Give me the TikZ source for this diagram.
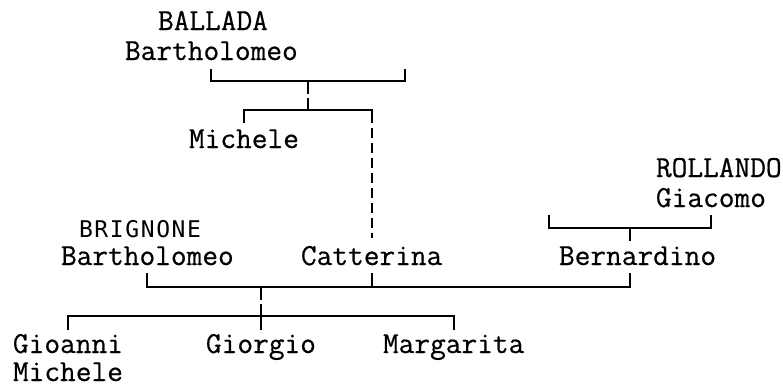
\documentclass[tikz,border=0pt]{standalone}
\usepackage{fontspec}
\newfontfamily\treefont[FakeBold=0.6]{Latin Modern Mono}
\newfontfamily\capsans[LetterSpace=7]{DejaVu Sans Mono}
\usetikzlibrary{calc}

\begin{document}
\begin{tikzpicture}[x=1pt, y=-1pt, line width=2pt,
    person/.style={anchor=base west, inner sep=0pt, font=\treefont\fontsize{30.5}{34}\selectfont},
    gap/.style={dash pattern=on 13pt off 4pt},
    dashline/.style={dash pattern=on 10pt off 5pt}]
    \useasboundingbox (0,0) rectangle (783,388);
    %% Persons
    \node[person] (ballada) at (157,30) {BALLADA};
    \node[person] (bartA) at (124,60) {Bartholomeo};
    \node[person] (michA) at (188,148) {Michele};
    \node[person, font=\capsans\fontsize{23}{26}\selectfont] (brignone) at (78,237) {BRIGNONE};
    \node[person] (bartB) at (60,265) {Bartholomeo};
    \node[person] (catt) at (300,265) {Catterina};
    \node[person] (rollando) at (655,177) {ROLLANDO};
    \node[person] (giac) at (655,207) {Giacomo};
    \node[person] (bern) at (558,265) {Bernardino};
    \node[person] (gioa) at (12,353) {Gioanni};
    \node[person] (michB) at (12,381) {Michele};
    \node[person] (gior) at (205,353) {Giorgio};
    \node[person] (marg) at (382,353) {Margarita};
    %% Unions
    \coordinate (spA) at (405,69);
    \coordinate (spR) at (549,215);
    \coordinate (uA) at (308,81);
    \coordinate (uR) at (630,228);
    \coordinate (uB) at (gior |- 0,287);
    %% BALLADA
    \draw (bartA |- 0,69) |- (spA |- uA) -- (spA);
    \draw[gap] (uA) -- (uA |- 0,110);
    \draw (michA |- 0,123) |- (catt |- 0,110) -- (catt |- 0,123);
    \draw[dashline] (catt |- 0,128) -- (catt |- 0,238);
    %% ROLLANDO
    \draw (spR) |- (uR) -| (giac |- 0,215);
    \draw (uR) -- (uR |- 0,241);
    %% BRIGNONE
    \draw (bartB |- 0,273) |- (uR |- uB) -- (uR |- 0,273);
    \draw (catt |- 0,273) -- (catt |- uB);
    \draw[gap] (uB) -- (uB |- 0,316);
    \draw (gioa |- 0,330) |- (marg |- 0,316) -- (marg |- 0,330);
    \draw (gior |- 0,316) -- (gior |- 0,330);
\end{tikzpicture}
\end{document}
